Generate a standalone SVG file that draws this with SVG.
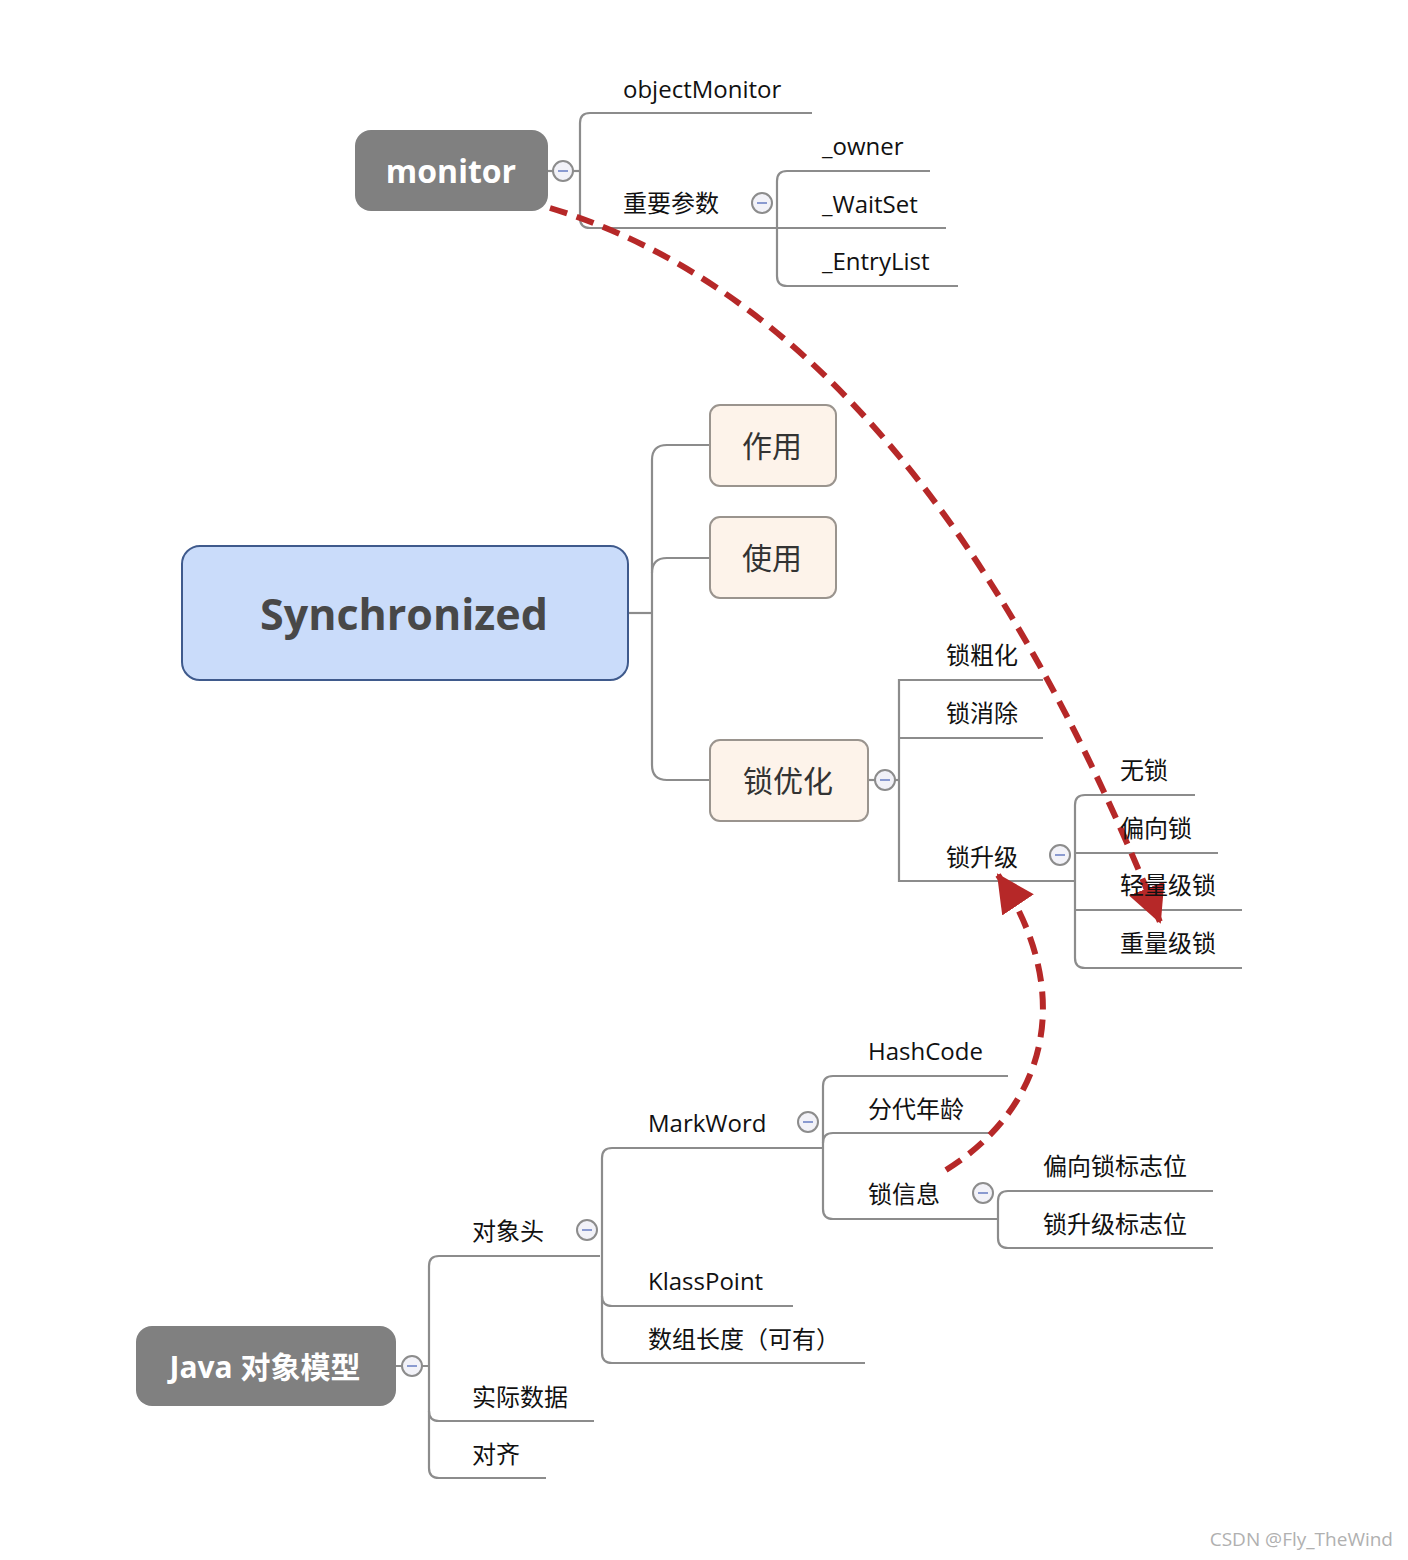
<svg xmlns="http://www.w3.org/2000/svg" width="1408" height="1560" viewBox="0 0 1408 1560">
<style>
.ln{fill:none;stroke:#8c8c8c;stroke-width:2.2}
.t{font-family:"Open Sans","Noto Sans CJK SC",sans-serif;font-size:24px;fill:#111}
.tc{font-family:"Noto Sans CJK SC","Open Sans",sans-serif;font-size:24px;fill:#111}
.grey{fill:#808080}
.wt{font-family:"Open Sans","Noto Sans CJK SC",sans-serif;font-weight:bold;fill:#fff;text-anchor:middle}
.sub{fill:#fdf3ea;stroke:#9a948e;stroke-width:2}
.subt{font-family:"Noto Sans CJK SC",sans-serif;font-size:30px;fill:#333;text-anchor:middle}
.red{fill:none;stroke:#b62828;stroke-width:6;stroke-dasharray:18 10}
.cc circle{fill:#f2f2f8;stroke:#8c8c8c;stroke-width:2}
.cc line{stroke:#8a9ad0;stroke-width:2}
</style>
<defs>
<marker id="ah" markerUnits="userSpaceOnUse" markerWidth="42" markerHeight="42" refX="36" refY="19" orient="auto">
<path d="M0,0 L38,19 L0,38 Z" fill="#b62828"/>
</marker>
<g id="cl" class="cc"><circle r="10" cx="0" cy="0"/><line x1="-5" y1="0" x2="5" y2="0"/></g>
</defs>

<g id="connectors">
<!-- monitor tree -->
<path class="ln" d="M548,171 H580"/>
<path class="ln" d="M812,113 H590 Q580,113 580,123 V218 Q580,228 590,228 H946"/>
<path class="ln" d="M930,171 H787 Q777,171 777,181 V276 Q777,286 787,286 H958"/>
<!-- synchronized tree -->
<path class="ln" d="M628,613 H652"/>
<path class="ln" d="M710,445 H667 Q652,445 652,460 V765 Q652,780 667,780 H710"/>
<path class="ln" d="M652,573 Q652,558 667,558 H710"/>
<!-- 锁优化 tree -->
<path class="ln" d="M868,780 H899"/>
<path class="ln" d="M1043,680 H899 V881 H1075"/>
<path class="ln" d="M899,738 H1043"/>
<path class="ln" d="M1195,795 H1085 Q1075,795 1075,805 V958 Q1075,968 1085,968 H1242"/>
<path class="ln" d="M1075,853 H1218"/>
<path class="ln" d="M1075,910 H1242"/>
<!-- Java tree -->
<path class="ln" d="M396,1366 H429"/>
<path class="ln" d="M600,1256 H439 Q429,1256 429,1266 V1468 Q429,1478 439,1478 H546"/>
<path class="ln" d="M429,1411 Q429,1421 439,1421 H594"/>
<path class="ln" d="M822,1148 H612 Q602,1148 602,1158 V1353 Q602,1363 612,1363 H865"/>
<path class="ln" d="M602,1296 Q602,1306 612,1306 H793"/>
<path class="ln" d="M1008,1076 H833 Q823,1076 823,1086 V1209 Q823,1219 833,1219 H998"/>
<path class="ln" d="M823,1143 Q823,1133 833,1133 H990"/>
<path class="ln" d="M1213,1191 H1008 Q998,1191 998,1201 V1238 Q998,1248 1008,1248 H1213"/>
<!-- collapse buttons -->
<use href="#cl" x="563" y="171"/>
<use href="#cl" x="762" y="203"/>
<use href="#cl" x="885" y="780"/>
<use href="#cl" x="1060" y="855"/>
<use href="#cl" x="412" y="1366"/>
<use href="#cl" x="587" y="1230"/>
<use href="#cl" x="808" y="1122"/>
<use href="#cl" x="983" y="1193"/>
<!-- red dashed relationships -->
<path class="red" d="M550,208 Q920,320 1160,922" marker-end="url(#ah)"/>
<path class="red" d="M946,1170 C1050,1105 1075,990 998,875" marker-end="url(#ah)"/>
</g>

<g id="monitor">
<rect class="grey" x="355" y="130" width="193" height="81" rx="16"/>
<text class="wt" x="451" y="183" font-size="32">monitor</text>
</g>
<g id="objectMonitor"><text class="t" x="623" y="98">objectMonitor</text></g>
<g id="params"><text class="tc" x="623" y="212">重要参数</text></g>
<g id="owner"><text class="t" x="822" y="155">_owner</text></g>
<g id="waitset"><text class="t" x="822" y="213">_WaitSet</text></g>
<g id="entrylist"><text class="t" x="822" y="270">_EntryList</text></g>

<g id="synchronized">
<rect x="182" y="546" width="446" height="134" rx="18" fill="#cadcfa" stroke="#3f5a8c" stroke-width="2"/>
<text x="404" y="630" font-family="'Open Sans',sans-serif" font-weight="bold" font-size="43" fill="#484848" text-anchor="middle">Synchronized</text>
</g>
<g id="zuoyong"><rect class="sub" x="710" y="405" width="126" height="81" rx="10"/><text class="subt" x="772" y="457">作用</text></g>
<g id="shiyong"><rect class="sub" x="710" y="517" width="126" height="81" rx="10"/><text class="subt" x="772" y="569">使用</text></g>
<g id="suoyouhua"><rect class="sub" x="710" y="740" width="158" height="81" rx="10"/><text class="subt" x="788" y="792">锁优化</text></g>
<g id="cuhua"><text class="tc" x="946" y="664">锁粗化</text></g>
<g id="xiaochu"><text class="tc" x="946" y="722">锁消除</text></g>
<g id="shengji"><text class="tc" x="946" y="866">锁升级</text></g>
<g id="wusuo"><text class="tc" x="1120" y="779">无锁</text></g>
<g id="pianxiang"><text class="tc" x="1120" y="837">偏向锁</text></g>
<g id="qingliang"><text class="tc" x="1120" y="894">轻量级锁</text></g>
<g id="zhongliang"><text class="tc" x="1120" y="952">重量级锁</text></g>

<g id="java">
<rect class="grey" x="136" y="1326" width="260" height="80" rx="16"/>
<text class="wt" x="265" y="1378" font-size="30">Java 对象模型</text>
</g>
<g id="duixiangtou"><text class="tc" x="472" y="1240">对象头</text></g>
<g id="shijishuju"><text class="tc" x="472" y="1406">实际数据</text></g>
<g id="duiqi"><text class="tc" x="472" y="1463">对齐</text></g>
<g id="markword"><text class="t" x="648" y="1132">MarkWord</text></g>
<g id="klasspoint"><text class="t" x="648" y="1290">KlassPoint</text></g>
<g id="shuzu"><text class="tc" x="648" y="1348">数组长度（可有）</text></g>
<g id="hashcode"><text class="t" x="868" y="1060">HashCode</text></g>
<g id="fendai"><text class="tc" x="868" y="1118">分代年龄</text></g>
<g id="suoxinxi"><text class="tc" x="868" y="1203">锁信息</text></g>
<g id="pxbz"><text class="tc" x="1043" y="1175">偏向锁标志位</text></g>
<g id="sjbz"><text class="tc" x="1043" y="1233">锁升级标志位</text></g>

<text x="1393" y="1546" font-family="'Open Sans',sans-serif" font-size="19" fill="#b0b0b0" text-anchor="end">CSDN @Fly_TheWind</text>
</svg>
